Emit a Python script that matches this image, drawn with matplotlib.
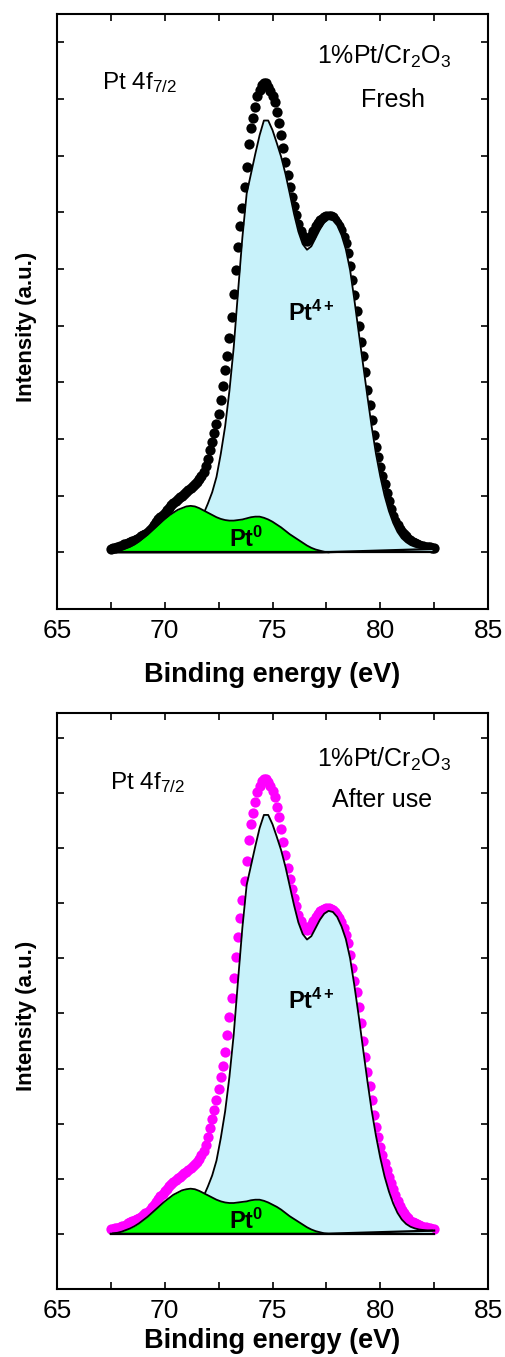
import numpy as np
import matplotlib
matplotlib.use("Agg")
from matplotlib import pyplot as plt
from matplotlib.ticker import MultipleLocator

plt.rcParams['font.family'] = ['Liberation Sans', 'DejaVu Sans']
plt.rcParams['mathtext.fontset'] = 'custom'
plt.rcParams['mathtext.rm'] = 'Liberation Sans'
plt.rcParams['mathtext.it'] = 'Liberation Sans'
plt.rcParams['mathtext.bf'] = 'Liberation Sans:bold'

# measured spectra, binding energy 67.5 .. 82.5 eV, step 0.1 eV
energy = [round(67.5 + 0.1 * i, 1) for i in range(151)]

fresh = [
    0.06, 0.07, 0.08, 0.09, 0.11, 0.12, 0.14, 0.15, 0.17, 0.19,
    0.20, 0.22, 0.24, 0.26, 0.28, 0.30, 0.33, 0.36, 0.39, 0.43,
    0.48, 0.53, 0.58, 0.62, 0.66, 0.70, 0.74, 0.78, 0.83, 0.87,
    0.91, 0.95, 0.98, 1.00, 1.03, 1.07, 1.10, 1.14, 1.17, 1.20,
    1.24, 1.29, 1.35, 1.42, 1.52, 1.65, 1.80, 1.95, 2.10, 2.27,
    2.45, 2.68, 2.93, 3.21, 3.47, 3.78, 4.15, 4.56, 4.98, 5.38,
    5.75, 6.08, 6.44, 6.80, 7.20, 7.48, 7.66, 7.85, 8.05, 8.16,
    8.24, 8.29, 8.28, 8.22, 8.14, 8.06, 7.95, 7.77, 7.58, 7.36,
    7.13, 6.89, 6.65, 6.45, 6.27, 6.12, 5.95, 5.79, 5.67, 5.58,
    5.52, 5.50, 5.53, 5.59, 5.67, 5.75, 5.81, 5.86, 5.89, 5.92,
    5.93, 5.94, 5.93, 5.91, 5.86, 5.81, 5.75, 5.69, 5.57, 5.45,
    5.28, 5.05, 4.80, 4.54, 4.26, 3.99, 3.72, 3.46, 3.18, 2.87,
    2.60, 2.33, 2.07, 1.86, 1.68, 1.50, 1.35, 1.20, 1.05, 0.90,
    0.77, 0.64, 0.55, 0.48, 0.42, 0.36, 0.32, 0.28, 0.24, 0.21,
    0.18, 0.16, 0.15, 0.13, 0.12, 0.11, 0.10, 0.09, 0.09, 0.08,
    0.08,
]

used = [
    0.08, 0.09, 0.10, 0.11, 0.12, 0.14, 0.15, 0.17, 0.19, 0.21,
    0.23, 0.25, 0.27, 0.29, 0.31, 0.34, 0.37, 0.40, 0.44, 0.48,
    0.53, 0.58, 0.63, 0.68, 0.73, 0.78, 0.82, 0.86, 0.90, 0.94,
    0.97, 1.01, 1.04, 1.07, 1.10, 1.13, 1.16, 1.19, 1.23, 1.26,
    1.30, 1.36, 1.43, 1.51, 1.62, 1.76, 1.92, 2.08, 2.25, 2.43,
    2.62, 2.84, 3.05, 3.30, 3.60, 3.93, 4.28, 4.65, 5.02, 5.38,
    5.73, 6.06, 6.40, 6.76, 7.14, 7.44, 7.64, 7.83, 8.02, 8.13,
    8.21, 8.25, 8.25, 8.20, 8.12, 8.03, 7.92, 7.75, 7.56, 7.34,
    7.11, 6.88, 6.64, 6.44, 6.26, 6.10, 5.94, 5.79, 5.67, 5.58,
    5.53, 5.51, 5.54, 5.60, 5.67, 5.74, 5.80, 5.85, 5.88, 5.90,
    5.91, 5.91, 5.90, 5.88, 5.84, 5.79, 5.73, 5.66, 5.55, 5.43,
    5.27, 5.06, 4.83, 4.59, 4.38, 4.12, 3.82, 3.50, 3.20, 2.93,
    2.68, 2.43, 2.16, 1.94, 1.75, 1.57, 1.43, 1.29, 1.16, 1.04,
    0.93, 0.82, 0.71, 0.60, 0.51, 0.43, 0.37, 0.32, 0.28, 0.24,
    0.21, 0.19, 0.18, 0.16, 0.14, 0.13, 0.12, 0.11, 0.10, 0.09,
    0.09,
]

# fitted components, step 0.2 eV
pt0_x = [round(67.6 + 0.2 * i, 1) for i in range(51)]
pt0_fresh = [
    0.01, 0.02, 0.04, 0.07, 0.10, 0.14, 0.19, 0.25, 0.31, 0.38,
    0.45, 0.52, 0.59, 0.65, 0.70, 0.75, 0.78, 0.81, 0.82, 0.81,
    0.78, 0.74, 0.70, 0.66, 0.62, 0.59, 0.57, 0.56, 0.56, 0.57,
    0.58, 0.60, 0.62, 0.63, 0.63, 0.61, 0.58, 0.54, 0.49, 0.44,
    0.38, 0.32, 0.27, 0.22, 0.17, 0.12, 0.08, 0.05, 0.03, 0.01,
    0.00,
]
pt0_used = [
    0.01, 0.02, 0.04, 0.07, 0.10, 0.14, 0.19, 0.25, 0.31, 0.38,
    0.45, 0.52, 0.59, 0.65, 0.71, 0.75, 0.79, 0.81, 0.82, 0.81,
    0.78, 0.74, 0.70, 0.66, 0.62, 0.59, 0.57, 0.56, 0.56, 0.57,
    0.58, 0.59, 0.61, 0.62, 0.62, 0.60, 0.57, 0.53, 0.49, 0.44,
    0.38, 0.32, 0.27, 0.22, 0.17, 0.12, 0.08, 0.05, 0.03, 0.01,
    0.00,
]

pt4_x = [round(71.0 + 0.2 * i, 1) for i in range(58)]
pt4_fresh = [
    0.12, 0.22, 0.36, 0.52, 0.68, 0.86, 1.06, 1.33, 1.74, 2.22,
    2.85, 3.62, 4.60, 5.55, 6.33, 6.68, 7.03, 7.36, 7.62, 7.62,
    7.45, 7.22, 6.98, 6.68, 6.33, 5.97, 5.66, 5.44, 5.34, 5.40,
    5.55, 5.70, 5.82, 5.88, 5.86, 5.77, 5.60, 5.35, 4.98, 4.45,
    3.88, 3.32, 2.76, 2.22, 1.74, 1.34, 1.00, 0.73, 0.52, 0.36,
    0.25, 0.18, 0.13, 0.10, 0.08, 0.07, 0.06, 0.06,
]
pt4_used = [
    0.12, 0.22, 0.36, 0.52, 0.68, 0.86, 1.06, 1.33, 1.74, 2.22,
    2.85, 3.62, 4.60, 5.55, 6.33, 6.68, 7.03, 7.36, 7.60, 7.60,
    7.43, 7.20, 6.96, 6.66, 6.31, 5.96, 5.65, 5.44, 5.34, 5.40,
    5.55, 5.70, 5.81, 5.86, 5.84, 5.75, 5.58, 5.35, 5.00, 4.50,
    3.95, 3.36, 2.78, 2.24, 1.78, 1.38, 1.04, 0.77, 0.55, 0.38,
    0.26, 0.18, 0.13, 0.10, 0.08, 0.07, 0.06, 0.06,
]

# background line under the fit
bg_x = [67.5, 77.3, 82.5]
bg_y = [0.0, 0.0, 0.06]

panels = [
    dict(data=fresh, color='black', pt0=pt0_fresh, pt4=pt4_fresh,
         label='Fresh', rect=[0.1129, 0.5512, 0.8535, 0.4385], top=9.5,
         sub_x=67.1, sub_y=8.17, title_y=8.62, name_y=7.85, name_x=80.6,
         xpad=14),
    dict(data=used, color='#ff00ff', pt0=pt0_used, pt4=pt4_used,
         label='After use', rect=[0.1129, 0.0501, 0.8535, 0.4245], top=9.45,
         sub_x=67.45, sub_y=8.07, title_y=8.48, name_y=7.75, name_x=80.1,
         xpad=4),
]

fig = plt.figure(figsize=(5.05, 13.57), dpi=100)

for p in panels:
    ax = fig.add_axes(p['rect'])
    ax.plot(energy, p['data'], 'o', color=p['color'], ms=7.4, mew=0, zorder=2)
    ax.fill_between(pt4_x, p['pt4'], 0, color='#c8f2fa', lw=0, zorder=3)
    ax.plot(pt4_x, p['pt4'], color='black', lw=1.3, zorder=4)
    ax.fill_between(pt0_x, p['pt0'], 0, color='#00ff00', lw=0, zorder=5)
    ax.plot(pt0_x, p['pt0'], color='black', lw=1.3, zorder=6)
    ax.plot(bg_x, bg_y, color='black', lw=1.6, zorder=6)
    ax.plot([energy[0], energy[-1]], [0, 0], color='black', lw=1.6, zorder=6)

    ax.set_xlim(65, 85)
    ax.set_ylim(-1, p['top'])
    ax.xaxis.set_major_locator(MultipleLocator(5))
    ax.xaxis.set_minor_locator(MultipleLocator(2.5))
    ax.set_yticks(np.arange(-1, 10))
    ax.set_yticklabels([])
    ax.tick_params(which='both', direction='in', top=True, right=True,
                   length=5, width=1.2, labelsize=19, pad=7)
    for s in ax.spines.values():
        s.set_linewidth(1.5)

    ax.set_xlabel('Binding energy (eV)', fontsize=19.5, fontweight='bold',
                  labelpad=p['xpad'])
    ax.set_ylabel('Intensity (a.u.)', fontsize=16, fontweight='bold')
    ax.yaxis.set_label_coords(-0.046, 0.475)

    ax.text(p['sub_x'], p['sub_y'], r'Pt 4f$_{7/2}$', fontsize=17.5)
    ax.text(80.2, p['title_y'], r'1%Pt/Cr$_2$O$_3$', fontsize=18, ha='center')
    ax.text(p['name_x'], p['name_y'], p['label'], fontsize=18, ha='center')
    ax.text(75.73, 4.09, r'Pt$^{\mathbf{4+}}$', fontsize=17, fontweight='bold',
            zorder=8)
    ax.text(72.96, 0.09, r'Pt$^{\mathbf{0}}$', fontsize=17, fontweight='bold',
            zorder=8)

fig.savefig('out.png', dpi=100)
